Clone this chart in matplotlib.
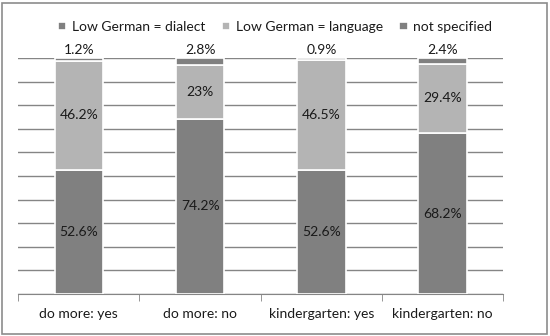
import matplotlib.pyplot as plt
import numpy as np

categories = ["do more: yes", "do more: no", "kindergarten: yes", "kindergarten: no"]
dialect = [52.6, 74.2, 52.6, 68.2]
language = [46.2, 23.0, 46.5, 29.4]
not_specified = [1.2, 2.8, 0.9, 2.4]
series_names = ["Low German = dialect", "Low German = language", "not specified"]

plt.rcParams["font.family"] = ["Lato", "DejaVu Sans"]

fig = plt.figure(figsize=(5.5, 3.36), dpi=100)
ax = fig.add_axes([0.033, 0.125, 0.882, 0.702])

x = np.arange(len(categories))
w = 0.4
dark = "#808080"
light = "#b4b4b4"
txt = "#1a1a1a"
fs = 10

b1 = ax.bar(x, dialect, w, color=dark, edgecolor="white", linewidth=1.2,
            label=series_names[0], zorder=3)
b2 = ax.bar(x, language, w, bottom=dialect, color=light, edgecolor="white",
            linewidth=1.2, label=series_names[1], zorder=3)
bot3 = [a + b for a, b in zip(dialect, language)]
b3 = ax.bar(x, not_specified, w, bottom=bot3, color=dark, edgecolor="white",
            linewidth=1.2, label=series_names[2], zorder=3)

def fmt(v):
    return f"{v:g}%"

for i in range(len(categories)):
    ax.text(x[i], dialect[i] / 2, fmt(dialect[i]), ha="center", va="center",
            fontsize=fs, color=txt, zorder=4)
    ax.text(x[i], dialect[i] + language[i] / 2, fmt(language[i]), ha="center",
            va="center", fontsize=fs, color=txt, zorder=4)
    ax.text(x[i], 100.8, fmt(not_specified[i]), ha="center", va="bottom",
            fontsize=fs, color=txt, zorder=4)

ax.set_xlim(-0.5, len(categories) - 0.5)
ax.set_ylim(0, 100)
ax.set_yticks(np.arange(0, 101, 10))
ax.yaxis.grid(True, color="#858585", linewidth=1.0, zorder=0)
ax.tick_params(axis="y", left=False, labelleft=False)
for s in ["top", "right", "left"]:
    ax.spines[s].set_visible(False)
ax.spines["bottom"].set_color("#858585")

ax.set_xticks(x)
ax.set_xticklabels(categories, fontsize=fs, color=txt)
ax.tick_params(axis="x", length=0, pad=10)
ax.set_xticks(np.arange(-0.5, len(categories), 1), minor=True)
ax.tick_params(axis="x", which="minor", length=5, color="#858585")

fig.legend(handles=[b1, b2, b3], labels=series_names, loc="upper center",
           bbox_to_anchor=(0.5, 0.975), ncol=3, frameon=False, fontsize=fs,
           handlelength=0.6, handleheight=0.6, handletextpad=0.4,
           columnspacing=1.2, labelcolor=txt)

border = plt.Rectangle((0.004, 0.006), 0.99, 0.985, transform=fig.transFigure,
                       fill=False, edgecolor="#8c8c8c", linewidth=1.2)
fig.patches.append(border)

fig.savefig("out.png", dpi=100)
